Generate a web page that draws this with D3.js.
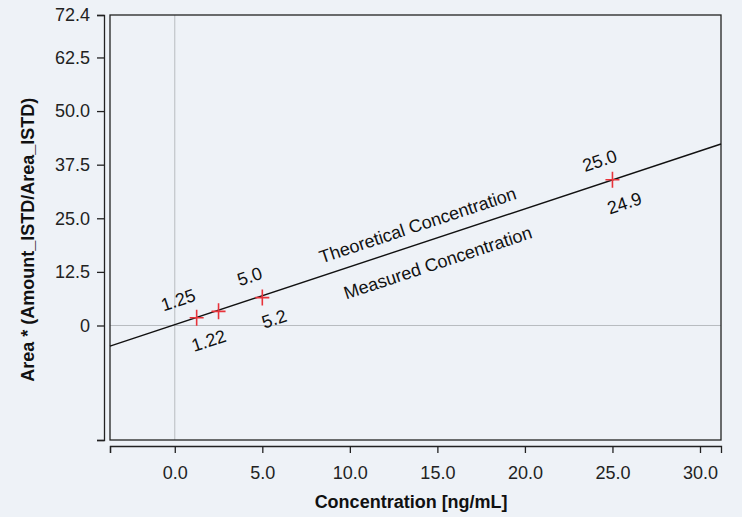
<!DOCTYPE html>
<html lang="en">
<head>
<meta charset="utf-8">
<style>
  body { margin: 0; background: #eef2f7; }
  svg { display: block; font-family: "Liberation Sans", Arial, sans-serif; }
</style>
</head>
<body>
<script src="https://d3js.org/d3.v7.min.js"></script>
<script>
// ---- data ----
var concentrations = [1.25, 2.5, 5.0, 25.0];
var areas = [1.8, 3.3, 6.5, 34.0];
var theoLabels = ["1.25", "", "5.0", "25.0"];
var measLabels = ["1.22", "", "5.2", "24.9"];
var fitSlope = 1.35;
var fitIntercept = 0.2;
var yTicks = [0, 12.5, 25.0, 37.5, 50.0, 62.5, 72.4];
var xTicks = [0, 5, 10, 15, 20, 25, 30];

var w = 742, h = 517;
var frame = { left: 110, right: 721, top: 15, bottom: 440 };

var svg = d3.select("body").append("svg").attr("width", w).attr("height", h);

var x = d3.scaleLinear().domain([-3.7, 31.2]).range([frame.left, frame.right]);
var y = d3.scaleLinear().domain([-26.7, 72.4]).range([frame.bottom, frame.top]);

// zero reference lines
svg.append("line").attr("x1", x(0)).attr("x2", x(0)).attr("y1", frame.top).attr("y2", frame.bottom)
  .attr("stroke", "#b8bcc0").attr("stroke-width", 1);
svg.append("line").attr("x1", frame.left).attr("x2", frame.right).attr("y1", y(0)).attr("y2", y(0))
  .attr("stroke", "#b8bcc0").attr("stroke-width", 1);

// frame
svg.append("rect").attr("x", frame.left).attr("y", frame.top)
  .attr("width", frame.right - frame.left).attr("height", frame.bottom - frame.top)
  .attr("fill", "none").attr("stroke", "#222").attr("stroke-width", 1.3);

// axes (detached from frame)
var yAxis = svg.append("g").attr("transform", "translate(104,0)")
  .call(d3.axisLeft(y).tickValues([-26.7].concat(yTicks)).tickSize(7).tickPadding(7)
    .tickFormat(function(d) { return d === -26.7 ? "" : d === 0 ? "0" : d3.format(".1f")(d); }));
var xAxis = svg.append("g").attr("transform", "translate(0,446)")
  .call(d3.axisBottom(x).tickValues([-3.7].concat(xTicks)).tickSize(7)
    .tickFormat(function(d) { return d === -3.7 ? "" : d3.format(".1f")(d); }));
[yAxis, xAxis].forEach(function(a) {
  a.select(".domain").attr("stroke", "#222").attr("stroke-width", 1.3);
  a.selectAll(".tick line").attr("stroke", "#222").attr("stroke-width", 1.3);
  a.selectAll("text").attr("font-size", 18).attr("fill", "#222")
    .attr("font-family", "\"Liberation Sans\", Arial, sans-serif");
});
xAxis.selectAll("text").attr("dy", "1.25em");

// axis titles
svg.append("text").attr("x", x(13.5)).attr("y", 508).attr("text-anchor", "middle")
  .attr("font-size", 18).attr("font-weight", "bold").attr("fill", "#111")
  .text("Concentration [ng/mL]");
svg.append("text").attr("transform", "translate(34," + y(20) + ") rotate(-90)")
  .attr("text-anchor", "middle").attr("font-size", 18).attr("font-weight", "bold").attr("fill", "#111")
  .text("Area * (Amount_ISTD/Area_ISTD)");

// fit line
var x0 = x.domain()[0], x1 = x.domain()[1];
svg.append("line")
  .attr("x1", x(x0)).attr("y1", y(fitSlope * x0 + fitIntercept))
  .attr("x2", x(x1)).attr("y2", y(fitSlope * x1 + fitIntercept))
  .attr("stroke", "#111").attr("stroke-width", 1.4);

var angle = Math.atan2(y(fitSlope * x1) - y(fitSlope * x0), x(x1) - x(x0)) * 180 / Math.PI;

// points as red crosses
var pts = svg.selectAll("g.pt").data(concentrations).enter().append("g")
  .attr("transform", function(d, i) { return "translate(" + x(d) + "," + y(areas[i]) + ")"; });
pts.append("path").attr("d", "M-7,0H7M0,-8V8").attr("stroke", "#e8333a").attr("stroke-width", 1.6);

// labels along the line
function lineText(cx, dx, offset, txt) {
  var cy = y(fitSlope * cx + fitIntercept);
  svg.append("text")
    .attr("transform", "translate(" + x(cx) + "," + cy + ") rotate(" + angle + ") translate(" + dx + "," + offset + ")")
    .attr("text-anchor", "middle").attr("font-size", 18).attr("fill", "#111").text(txt);
}
concentrations.forEach(function(c, i) {
  if (theoLabels[i]) lineText(c, i === 0 ? -12 : -6, -16, theoLabels[i]);
  if (measLabels[i]) lineText(c, 4, 32, measLabels[i]);
});
lineText(14.2, 0, -12, "Theoretical Concentration");
lineText(14.6, 0, 30, "Measured Concentration");
</script>
</body>
</html>
